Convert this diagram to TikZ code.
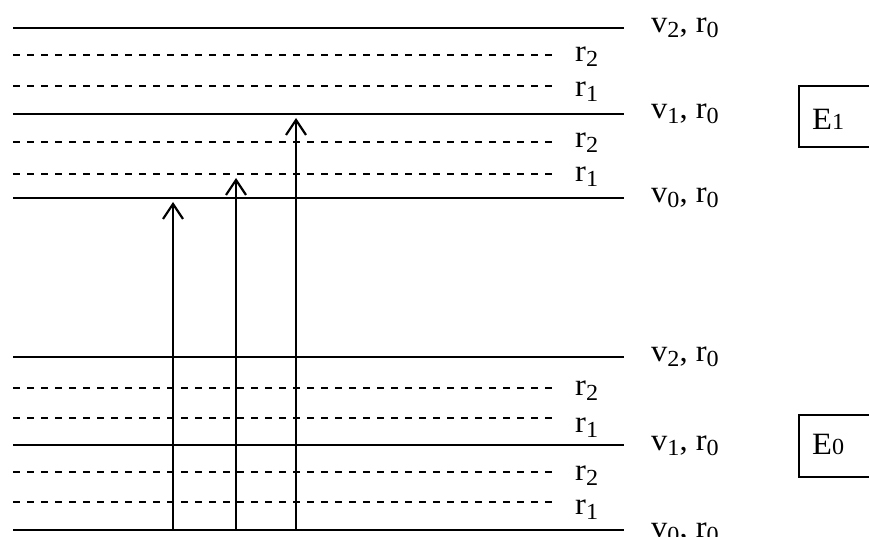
\documentclass[tikz,border=0pt]{standalone}
\usepackage{fontspec}
\setmainfont{Liberation Serif}[FakeStretch=1.05]
\usetikzlibrary{arrows.meta}
\newcommand\lsub[1]{\raisebox{-5pt}{\fontsize{23}{23}\selectfont #1}}
\newcommand\esub[1]{{\fontsize{23}{23}\selectfont #1}}
\begin{document}
\begin{tikzpicture}[x=1pt,y=-1pt,
  level/.style={line width=2.7pt},
  sublevel/.style={line width=2.3pt, dash pattern=on 7pt off 7pt},
  lbl/.style={anchor=base west, inner sep=0pt, font=\fontsize{31}{31}\selectfont},
  etext/.style={anchor=base west, inner sep=0pt, font=\fontsize{31}{31}\selectfont},
  trans/.style={line width=2.2pt, -{Straight Barb[length=15pt,width=20pt]}},
  boxline/.style={line width=1.8pt}]
\useasboundingbox (0,0) rectangle (869,537);
% upper electronic state E1
\draw[level] (13,28) -- (624,28);
\draw[sublevel] (13,55) -- (552,55);
\draw[sublevel] (13,86) -- (552,86);
\draw[level] (13,114) -- (624,114);
\draw[sublevel] (13,142) -- (552,142);
\draw[sublevel] (13,174) -- (552,174);
\draw[level] (13,198) -- (624,198);
% lower electronic state E0
\draw[level] (13,357) -- (624,357);
\draw[sublevel] (13,388) -- (552,388);
\draw[sublevel] (13,418) -- (552,418);
\draw[level] (13,445) -- (624,445);
\draw[sublevel] (13,472) -- (552,472);
\draw[sublevel] (13,502) -- (552,502);
\draw[level] (13,530) -- (624,530);
% labels upper
\node[lbl] (u5) at (651,33) {v\lsub{2}, r\lsub{0}};
\node[lbl] (u4) at (575,62) {r\lsub{2}};
\node[lbl] (u3) at (575,97) {r\lsub{1}};
\node[lbl] (u2) at (651,119) {v\lsub{1}, r\lsub{0}};
\node[lbl] (u1) at (575,148) {r\lsub{2}};
\node[lbl] (u0b) at (575,182) {r\lsub{1}};
\node[lbl] (u0) at (651,203) {v\lsub{0}, r\lsub{0}};
% labels lower
\node[lbl] (l5) at (651,361) {v\lsub{2}, r\lsub{0}};
\node[lbl] (l4) at (575,395) {r\lsub{2}};
\node[lbl] (l3) at (575,432) {r\lsub{1}};
\node[lbl] (l2) at (651,450) {v\lsub{1}, r\lsub{0}};
\node[lbl] (l1) at (575,480) {r\lsub{2}};
\node[lbl] (l0b) at (575,514) {r\lsub{1}};
\node[lbl] (l0) at (651,537) {v\lsub{0}, r\lsub{0}};
% state boxes
\draw[boxline] (799,86) rectangle (885,147);
\node[etext] (E1) at (812,130) {E\esub{1}};
\draw[boxline] (799,415) rectangle (885,477);
\node[etext] (E0) at (812,454) {E\esub{0}};
% transitions
\coordinate (a1s) at (173,530); \coordinate (a1e) at (173,202);
\coordinate (a2s) at (236,530); \coordinate (a2e) at (236,178);
\coordinate (a3s) at (296,530); \coordinate (a3e) at (296,118);
\draw[trans] (a1s) -- (a1e);
\draw[trans] (a2s) -- (a2e);
\draw[trans] (a3s) -- (a3e);
\end{tikzpicture}
\end{document}
